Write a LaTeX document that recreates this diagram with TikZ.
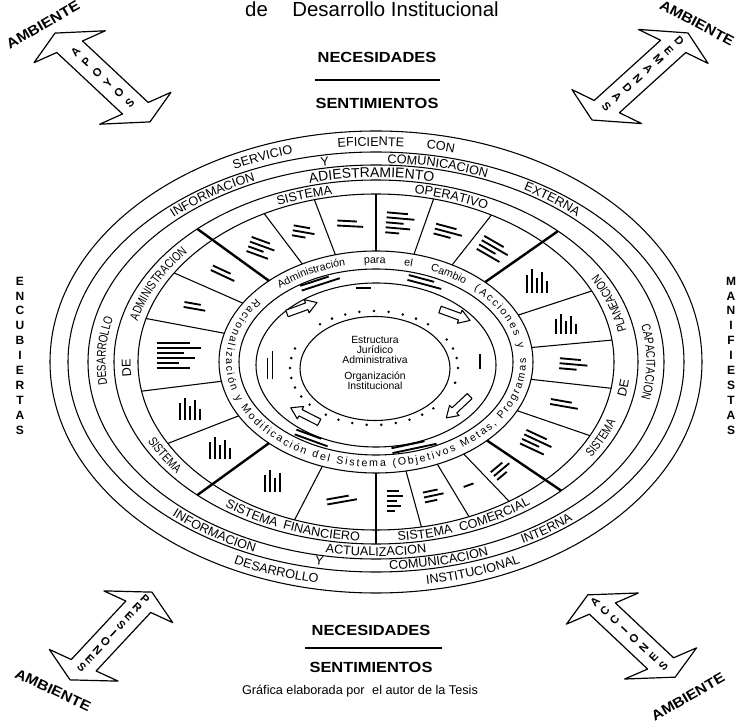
\documentclass[tikz,border=0pt]{standalone}
\usepackage{fontspec}
\setmainfont{Liberation Sans}
\newfontfamily\narrowfont[FakeStretch=0.78]{Liberation Sans}
\newfontfamily\wideboldfont[FakeStretch=1.12]{Liberation Sans Bold}
\usetikzlibrary{decorations.text}
\newcommand\rf{\fontsize{9.5}{10}\selectfont}
\newcommand\brf{\fontsize{10.5}{11}\selectfont}
\newcommand\nrf{\narrowfont\fontsize{9.5}{10}\selectfont}
\newcommand\irf{\fontsize{8}{9}\selectfont}
\newcommand\topword[5][30]{\path[decorate,decoration={text along path,text align=center,text={#5}}] ({#4+#1}:#2 and #3) arc[start angle={#4+#1},end angle={#4-#1},x radius=#2,y radius=#3];}
\newcommand\botword[5][30]{\path[decorate,decoration={text along path,text align=center,text={#5}}] ({#4-#1}:#2 and #3) arc[start angle={#4-#1},end angle={#4+#1},x radius=#2,y radius=#3];}
% mid x, mid y, angle, half length, letters, first pos, spacing, name, slant
\newcommand\cornerarrow[9]{%
\begin{scope}[shift={(#1,#2)},rotate=#3,xslant=#9]
 \draw[bigarrow] (-#4,0) -- ({-#4+20},36) -- ({-#4+20},13) -- ({#4-20},13) -- ({#4-20},36) -- (#4,0) -- ({#4-20},-36) -- ({#4-20},-13) -- ({-#4+20},-13) -- ({-#4+20},-36) -- cycle;
 \foreach \l [count=\i] in {#5} \node[arrowletter, rotate={#3+90}] (#8\i) at ({#6+(\i-1)*#7},0) {\l};
\end{scope}}
\newcommand\smallarr[3]{%
\begin{scope}[shift={(#1,#2)},rotate=#3]
 \draw[smallarrow] (-16,-3.5) -- (5,-3.5) -- (5,-7) -- (16,0) -- (5,7) -- (5,3.5) -- (-16,3.5) -- cycle;
\end{scope}}
\begin{document}
\begin{tikzpicture}[x=0.75pt,y=0.75pt,line join=round]
\tikzset{
  ring/.style={line width=0.8pt},
  sector/.style={line width=0.8pt},
  sysline/.style={line width=1.8pt},
  bar/.style={line width=1.4pt},
  stackletter/.style={font=\bfseries\fontsize{9}{9}\selectfont, inner sep=0pt},
  headline/.style={font=\wideboldfont\fontsize{11}{12}\selectfont, inner sep=0pt},
  ambient/.style={font=\wideboldfont\fontsize{10.5}{11}\selectfont, inner sep=0pt},
  arrowletter/.style={font=\bfseries\fontsize{8.5}{9}\selectfont, inner sep=0pt},
  bigarrow/.style={line width=0.9pt, fill=white},
  smallarrow/.style={line width=0.8pt, fill=white},
  pics/blob/.style 2 args={code={
    \foreach \k in {1,...,#1}{
      \pgfmathsetmacro\yy{((#1+1)/2-\k)*5}
      \pgfmathsetmacro\ll{#2*(0.5+0.5*mod(\k*7,5)/4)}
      \draw[bar] ({-#2/2},\yy) -- ({-#2/2+\ll},\yy);
    }}},
}
\fill[white] (-376,-361) rectangle (365,362);
\useasboundingbox (-376,-361) rectangle (365,362);

% title and headers
\node[font=\fontsize{15.3}{17}\selectfont, anchor=base, inner sep=0pt] (title) at (-4,345) {de\hspace{1.2em}Desarrollo Institucional};
\node[headline] (nec1) at (1,305) {NECESIDADES};
\draw[line width=0.9pt] (-61,282) -- (64,282);
\node[headline] (sen1) at (1,259) {SENTIMIENTOS};
\node[headline] (nec2) at (-5,-268) {NECESIDADES};
\draw[line width=0.9pt] (-71,-286) -- (66,-286);
\node[headline] (sen2) at (-5,-305) {SENTIMIENTOS};
\node[font=\fontsize{9.5}{11}\selectfont, inner sep=0pt] (credit) at (-16,-329) {Gráfica elaborada por\hspace{0.6em}el autor de la Tesis};

% side stacked words
\foreach \l [count=\i] in {E,N,C,U,B,I,E,R,T,A,S} \node[stackletter] (enc\i) at (-356,{81-(\i-1)*14.9}) {\l};
\foreach \l [count=\i] in {M,A,N,I,F,I,E,S,T,A,S} \node[stackletter] (man\i) at (355,{81-(\i-1)*14.9}) {\l};

% ambiente labels
\node[ambient, rotate=30] (amb1) at (-333,337) {AMBIENTE};
\node[ambient, rotate=-28] (amb2) at (321,339) {AMBIENTE};
\node[ambient, rotate=-25] (amb3) at (-323,-328) {AMBIENTE};
\node[ambient, rotate=30] (amb4) at (312,-335) {AMBIENTE};

% corner arrows
\cornerarrow{-273.5}{284.5}{-43.1}{65}{A,P,O,Y,O,S}{-37}{14.9}{apo}{0.42}
\cornerarrow{264}{285.5}{-137.8}{64.8}{D,E,M,A,N,D,A,S}{-53}{14}{dem}{-0.4}
\cornerarrow{-265}{-274}{-133}{60}{P,R,E,S,I,O,N,E,S}{-50}{11.6}{pre}{-0.33}
\cornerarrow{255.5}{-274}{-43.3}{60}{A,C,C,I,O,N,E,S}{-50}{13.4}{acc}{0.43}

% ellipses
\draw[ring] (0,0) ellipse [x radius=326, y radius=231];
\draw[ring] (0,0) ellipse [x radius=308, y radius=210];
\draw[ring] (0,0) ellipse [x radius=288, y radius=197];
\draw[ring] (0,0) ellipse [x radius=262, y radius=182];
\draw[ring] (0,0) ellipse [x radius=238, y radius=168];
\draw[ring] (0,0) ellipse [x radius=157, y radius=111];
\draw[ring] (0,0) ellipse [x radius=137, y radius=93];
\draw[ring] (0,-3) ellipse [x radius=120, y radius=82];
\draw[ring] (-1,-6.5) ellipse [x radius=75, y radius=52];

% sector dividers
\foreach \t in {61,76,90,105,118,148,165,190,209,250,281,293,304,334,351,7.5,25}
  \draw[sector] (\t:157 and 111) -- (\t:238 and 168);
\foreach \t in {46,133,227,270,315}
  \draw[sysline] (\t:157 and 111) -- (\t:262 and 182);

% sector contents (illegible small print)
\foreach \t/\r/\n/\l in {53.5/-30/4/30, 68.5/-15/3/28, 83/-5/5/28, 97.5/-3/2/26, 111.5/-10/3/22, 125.5/-20/4/26, 140.5/-25/2/26, 156.5/-10/2/22, 177.5/0/6/44, 199.5/90/5/22, 218/90/5/22, 238.5/90/4/22, 260/10/2/30, 275.5/0/5/16, 287/12/3/20, 298.5/20/1/14, 309.5/40/3/20, 324.5/-25/4/30, 342.5/-10/2/28, 359/-5/3/28, 16/90/5/20, 35.5/90/5/24}
  \pic[rotate=\r] at (\t:197.5 and 139.5) {blob={\n}{\l}};

% ring texts: ring 1
\topword{312.5}{216}{112.6}{|\rf|SERVICIO}
\topword{312.5}{216}{91}{|\rf|EFICIENTE}
\topword[12]{312.5}{216}{78}{|\rf|CON}
\botword{321.5}{225}{250.5}{|\rf|DESARROLLO}
\botword{321.5}{225}{289}{|\rf|INSTITUCIONAL}
% ring 2
\topword{293.5}{199}{126}{|\rf|INFORMACION}
\topword[10]{293.5}{199}{100}{|\rf|Y}
\topword{293.5}{199}{77}{|\rf|COMUNICACION}
\topword{293.5}{199}{51}{|\rf|EXTERNA}
\botword{302.5}{208}{235}{|\rf|INFORMACION}
\botword[10]{301.5}{206.5}{259}{|\rf|Y}
\botword{302.5}{208}{283}{|\rf|COMUNICACION}
\botword{302.5}{208}{307}{|\rf|INTERNA}
% ring 3
\topword{270}{184.5}{91}{|\brf|ADIESTRAMIENTO}
\topword{270.5}{185}{0}{|\nrf|CAPACITACION}
\topword{270.5}{185}{177}{|\nrf|DESARROLLO}
\botword{279.5}{194}{270}{|\rf|ACTUALIZACION}
% systems ring
\topword{245.5}{170.5}{108}{|\rf|SISTEMA}
\topword{245.5}{170.5}{71}{|\rf|OPERATIVO}
\topword{245.5}{170.5}{155}{|\nrf|ADMINISTRACION}
\topword[12]{245.5}{170.5}{182}{|\rf|DE}
\botword{254.5}{179.5}{210}{|\nrf|SISTEMA}
\botword{254.5}{179.5}{238.5}{|\rf|SISTEMA}
\botword{254.5}{179.5}{256.6}{|\rf|FINANCIERO}
\botword{254.5}{179.5}{282}{|\rf|SISTEMA}
\botword{254.5}{179.5}{300}{|\rf|COMERCIAL}
\botword{254.5}{179.5}{336.2}{|\nrf|SISTEMA}
\botword[12]{254.5}{179.5}{351.5}{|\rf|DE}
\botword{254.5}{179.5}{18}{|\nrf|PLANEACION}

% inner text ring
\path[decorate,decoration={text along path,text align={fit to path stretching spaces},text={|\irf|Administración para el Cambio}}] (132:143.5 and 98.5) arc[start angle=132,end angle=52,x radius=143.5,y radius=98.5];
\path[decorate,decoration={text along path,text align={fit to path},text={|\irf|(Acciones y}}] (47:143.5 and 98.5) arc[start angle=47,end angle=8,x radius=143.5,y radius=98.5];
\path[decorate,decoration={text along path,text align={fit to path},text={|\irf|Racionalización y Modificación del Sistema (Objetivos Metas, Programas}}] (143:150 and 105) arc[start angle=143,end angle=362,x radius=150,y radius=105];

% inner small print
\pic[rotate=18] at (-56,80) {blob={2}{40}};
\pic[rotate=-15] at (49,80) {blob={2}{35}};
\pic at (-10,74) {blob={1}{20}};
\pic[rotate=90] at (104,3) {blob={1}{20}};
\pic[rotate=90] at (-106,-3) {blob={2}{28}};
\pic[rotate=-20] at (-64,-76) {blob={2}{35}};
\pic[rotate=12] at (38,-84) {blob={2}{45}};

% circulation arrows and dots
\smallarr{-74}{54}{20}
\smallarr{79}{47}{-20}
\smallarr{82}{-45}{-137}
\smallarr{-71}{-53}{153}
\begin{scope}[shift={(-2,-6)}]
\foreach \t in {0,10,20,30,50,60,70,80,90,100,110,120,130,160,170,180,190,200,210,220,235,245,255,265,275,285,295,305,315,345}
  \fill (\t:84 and 57) circle (1.4);
\end{scope}

% centre
\node[align=center, font=\fontsize{7.8}{7.4}\selectfont, inner sep=0pt] (core) at (-1,-1) {Estructura\\Jurídico\\Administrativa\\[5pt]Organización\\Institucional};
\end{tikzpicture}
\end{document}
